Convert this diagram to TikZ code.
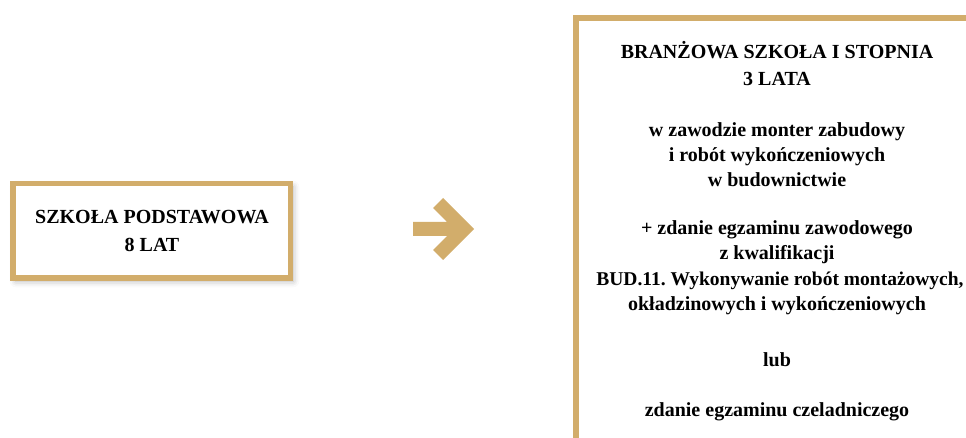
\documentclass[tikz,border=0pt]{standalone}
\usepackage{fontspec}
\setmainfont{Liberation Serif}
\usetikzlibrary{shadows.blur}
\definecolor{gold}{RGB}{210,173,107}
\frenchspacing
\tikzset{
  boxstyle/.style={draw=gold, fill=white, inner sep=0pt,
    blur shadow={shadow xshift=3pt, shadow yshift=-3pt, shadow blur radius=6pt, shadow opacity=30}},
  txt/.style={anchor=base, inner sep=0pt, font=\bfseries\fontsize{20}{24}\selectfont, text=black},
}
\begin{document}
\begin{tikzpicture}[x=1pt,y=-1pt]
\useasboundingbox (0,0) rectangle (966,438);
\clip (0,0) rectangle (966,438);
% left box
\node[boxstyle, line width=5.5pt, minimum width=277.5pt, minimum height=94.5pt] (sp) at (151.5,231) {};
\node[txt] (sp1) at (152,224) {SZKOŁA PODSTAWOWA};
\node[txt] (sp2) at (152,252) {8 LAT};
% arrow
\fill[gold] (413,222) -- (447,222) -- (433,208) -- (443,198) -- (474,229) -- (443,260) -- (433,250) -- (447,236) -- (413,236) -- cycle;
% right box
\node[boxstyle, line width=6pt, minimum width=414pt, minimum height=452pt] (bs) at (783,244) {};
\node[txt] (t1) at (777,59) {BRANŻOWA SZKOŁA I STOPNIA};
\node[txt] (t2) at (777,86) {3 LATA};
\node[txt] (t3) at (777,137) {w zawodzie monter zabudowy};
\node[txt] (t4) at (777,162) {i robót wykończeniowych};
\node[txt] (t5) at (777,187) {w budownictwie};
\node[txt] (t6) at (777,235) {+ zdanie egzaminu zawodowego};
\node[txt] (t7) at (777,260) {z kwalifikacji};
\node[txt,font=\bfseries\fontsize{19.5}{24}\selectfont] (t8) at (780,285) {BUD.11. Wykonywanie robót montażowych,};
\node[txt] (t9) at (777,310) {okładzinowych i wykończeniowych};
\node[txt] (t10) at (777,366) {lub};
\node[txt] (t11) at (777,416) {zdanie egzaminu czeladniczego};
\end{tikzpicture}
\end{document}
